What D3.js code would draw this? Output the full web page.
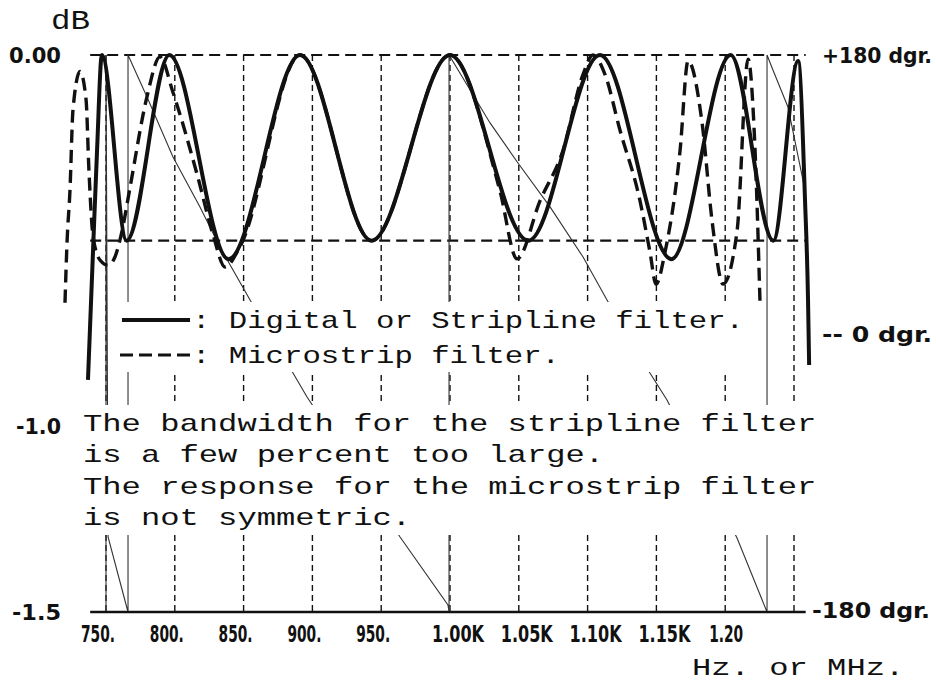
<!DOCTYPE html>
<html>
<head>
<meta charset="utf-8">
<script src="https://cdn.jsdelivr.net/npm/d3@7"></script>
<style>
  body { margin: 0; background: #fff; }
</style>
</head>
<body>
<div id="chart"></div>
<script>

const width = 936
const height = 685

// frequency axis (Hz. or MHz.)
const xTicks = [750, 800, 850, 900, 950, 1000, 1050, 1100, 1150, 1200, 1250]
const xTickLabels = ['750.', '800.', '850.', '900.', '950.', '1.00K', '1.05K', '1.10K', '1.15K', '1.20', '']

// dB axis
const yTicks = [0, -1.0, -1.5]
const yTickLabels = ['0.00', '-1.0', '-1.5']
const yRefLines = [0, -0.5]

// phase axis
const phaseTicks = [180, 0, -180]
const phaseTickLabels = ['+180 dgr.', '-- 0 dgr.', '-180 dgr.']

// digital / stripline filter (solid)
const stripFreq = [736.9, 740.6, 743.5, 747, 765, 796, 839, 891, 943, 1000, 1057, 1109, 1161, 1204, 1235, 1253, 1258, 1260.2, 1261]
const stripDb = [-0.875, -0.525, -0.256, 0, -0.5, 0, -0.55, 0, -0.5, 0, -0.5, 0, -0.55, 0, -0.5, -0.016, -0.39, -0.66, -0.835]

// microstrip filter (dashed)
const microFreq = [720.2, 721.7, 723.8, 726.0, 731.1, 735.5, 737.6, 740.6, 745.6, 751.5, 756.5, 761.6, 767.4, 779.8, 789.2, 798.7, 816.1, 827.8, 836.5, 847.4, 891, 943, 1000, 1036.3, 1048.7, 1065.4, 1082.1, 1096.7, 1103.9, 1112.6, 1123.5, 1138.1, 1145.3, 1149.7, 1156.3, 1167.2, 1173.0, 1183.2, 1190.5, 1198.4, 1208.6, 1216.6, 1221.7, 1225.3]
const microDb = [-0.667, -0.503, -0.366, -0.148, -0.044, -0.12, -0.311, -0.489, -0.552, -0.566, -0.544, -0.475, -0.358, -0.112, -0.005, -0.101, -0.32, -0.484, -0.571, -0.516, 0, -0.5, 0, -0.366, -0.549, -0.393, -0.257, -0.052, 0, -0.052, -0.202, -0.393, -0.53, -0.617, -0.53, -0.257, -0.016, -0.183, -0.448, -0.617, -0.475, -0.011, -0.257, -0.667]

// phase (degrees), wraps at +-180
const phaseFreq = [750, 750, 751.5, 763.1, 766, 766, 779.8, 798.7, 818.3, 832.8, 854.7, 885.9, 896.1, 963.7, 998.5, 999.3, 999.3, 1029.1, 1049.4, 1072.7, 1096.7, 1114.1, 1145.3, 1157.7, 1208.6, 1230.4, 1230.4, 1234.7, 1245.6, 1258]
const phaseDeg = [-180, 180, -131.5, -170.3, -180, 180, 152.9, 114.1, 81.8, 55.9, 21.7, -25.5, -41, -131.5, -175.5, -180, 180, 136.1, 110.2, 81.8, 49.4, 21.7, -25.5, -43, -132.2, -180, 180, 170.3, 146.4, 92.7]

const legendItems = [': Digital or Stripline filter.', ': Microstrip filter.']
const notes = [
  'The bandwidth for the stripline filter',
  'is a few percent too large.',
  'The response for the microstrip filter',
  'is not symmetric.'
]

const svg = d3.select('#chart')
  .append('svg')
  .attr('width', width)
  .attr('height', height)

const x = d3.scaleLinear().domain([750, 1250]).range([106, 794])
const y = d3.scaleLinear().domain([-1.5, 0]).range([612, 55])
const yPhase = d3.scaleLinear().domain([-180, 180]).range([612, 55])
const xLeft = x(738.5)
const xRight = x(1258.5)

const ink = '#111'
const boldFont = '"Liberation Sans Narrow", "DejaVu Sans Condensed", "Liberation Sans", sans-serif'
const monoFont = '"Liberation Mono", "DejaVu Sans Mono", monospace'

// vertical grid
svg.append('g')
  .selectAll('line')
  .data(xTicks)
  .join('line')
  .attr('x1', d => x(d))
  .attr('x2', d => x(d))
  .attr('y1', y(0))
  .attr('y2', y(-1.5))
  .attr('stroke', ink)
  .attr('stroke-width', 1.4)
  .attr('stroke-dasharray', '6,4')

// 0 and -0.5 dB dashed lines
svg.append('g')
  .selectAll('line')
  .data(yRefLines)
  .join('line')
  .attr('x1', xLeft)
  .attr('x2', xRight)
  .attr('y1', d => y(d))
  .attr('y2', d => y(d))
  .attr('stroke', ink)
  .attr('stroke-width', 2.2)
  .attr('stroke-dasharray', '11,6')

// phase, thin
const phaseLine = d3.line()
  .x(i => x(phaseFreq[i]))
  .y(i => yPhase(phaseDeg[i]))

svg.append('path')
  .attr('d', phaseLine(d3.range(phaseFreq.length)))
  .attr('fill', 'none')
  .attr('stroke', '#333')
  .attr('stroke-width', 1.1)

// white boxes behind legend and notes (the plotter blanked these areas)
svg.append('rect').attr('x', 112).attr('y', 302).attr('width', 646).attr('height', 70).attr('fill', '#fff')
svg.append('rect').attr('x', 80).attr('y', 405).attr('width', 752).attr('height', 130).attr('fill', '#fff')

const ampLine = (fs, vs) => d3.line()
  .curve(d3.curveMonotoneX)
  .x(i => x(fs[i]))
  .y(i => y(vs[i]))(d3.range(fs.length))

svg.append('path')
  .attr('d', ampLine(microFreq, microDb))
  .attr('fill', 'none')
  .attr('stroke', ink)
  .attr('stroke-width', 3.4)
  .attr('stroke-dasharray', '13,7')

svg.append('path')
  .attr('d', ampLine(stripFreq, stripDb))
  .attr('fill', 'none')
  .attr('stroke', ink)
  .attr('stroke-width', 4)
  .attr('stroke-linejoin', 'round')

// bottom axis line
svg.append('line')
  .attr('x1', xLeft)
  .attr('x2', xRight)
  .attr('y1', y(-1.5))
  .attr('y2', y(-1.5))
  .attr('stroke', ink)
  .attr('stroke-width', 2.5)

// x tick labels, squeezed like the plotter font
const isLong = s => s.length > 4
svg.append('g')
  .selectAll('text')
  .data(xTicks.filter((d, i) => xTickLabels[i] !== ''))
  .join('text')
  .attr('x', (d, i) => x(d) - (isLong(xTickLabels[i]) ? 18 : (xTickLabels[i] === '1.20' ? 16 : 25)))
  .attr('y', y(-1.5) + 30)
  .attr('font-family', boldFont)
  .attr('font-weight', 'bold')
  .attr('font-size', 23)
  .attr('textLength', (d, i) => isLong(xTickLabels[i]) ? 52 : 34)
  .attr('lengthAdjust', 'spacingAndGlyphs')
  .attr('fill', ink)
  .text((d, i) => xTickLabels[i])

// y tick labels (right aligned at x = 61)
const yLabelWidth = [52, 45, 49]
svg.append('g')
  .selectAll('text')
  .data(yTicks)
  .join('text')
  .attr('x', (d, i) => 61 - yLabelWidth[i])
  .attr('y', d => y(d) + 8)
  .attr('font-family', boldFont)
  .attr('font-weight', 'bold')
  .attr('font-size', 21)
  .attr('textLength', (d, i) => yLabelWidth[i])
  .attr('lengthAdjust', 'spacingAndGlyphs')
  .attr('fill', ink)
  .text((d, i) => yTickLabels[i])

// phase labels on the right
const phaseLabelX = [822, 822, 812]
const phaseLabelW = [110, 110, 118]
svg.append('g')
  .selectAll('text')
  .data(phaseTicks)
  .join('text')
  .attr('x', (d, i) => phaseLabelX[i])
  .attr('y', (d, i) => yPhase(d) + (i === 2 ? 6 : 8))
  .attr('font-family', boldFont)
  .attr('font-weight', 'bold')
  .attr('font-size', 21)
  .attr('textLength', (d, i) => phaseLabelW[i])
  .attr('lengthAdjust', 'spacingAndGlyphs')
  .attr('fill', ink)
  .text((d, i) => phaseTickLabels[i])

function monoText (str, x0, base, charW, size = 24) {
  svg.append('text')
    .attr('x', x0)
    .attr('y', base)
    .attr('font-family', monoFont)
    .attr('font-size', size)
    .attr('textLength', str.length * charW)
    .attr('lengthAdjust', 'spacingAndGlyphs')
    .attr('fill', ink)
    .text(str)
}

monoText('dB', 51, 29, 19.5, 28)
monoText('Hz. or MHz.', 692, 675, 19.3)

// legend
svg.append('line').attr('x1', 122).attr('x2', 190).attr('y1', 320).attr('y2', 320)
  .attr('stroke', ink).attr('stroke-width', 4)
svg.append('line').attr('x1', 120).attr('x2', 192).attr('y1', 355).attr('y2', 355)
  .attr('stroke', ink).attr('stroke-width', 3).attr('stroke-dasharray', '13,6')
legendItems.forEach((t, i) => monoText(t, 192, 328 + i * 35, 18.4))

// notes
notes.forEach((t, i) => monoText(t, 83, 431 + i * 31.3, 19.3))

</script>
</body>
</html>
